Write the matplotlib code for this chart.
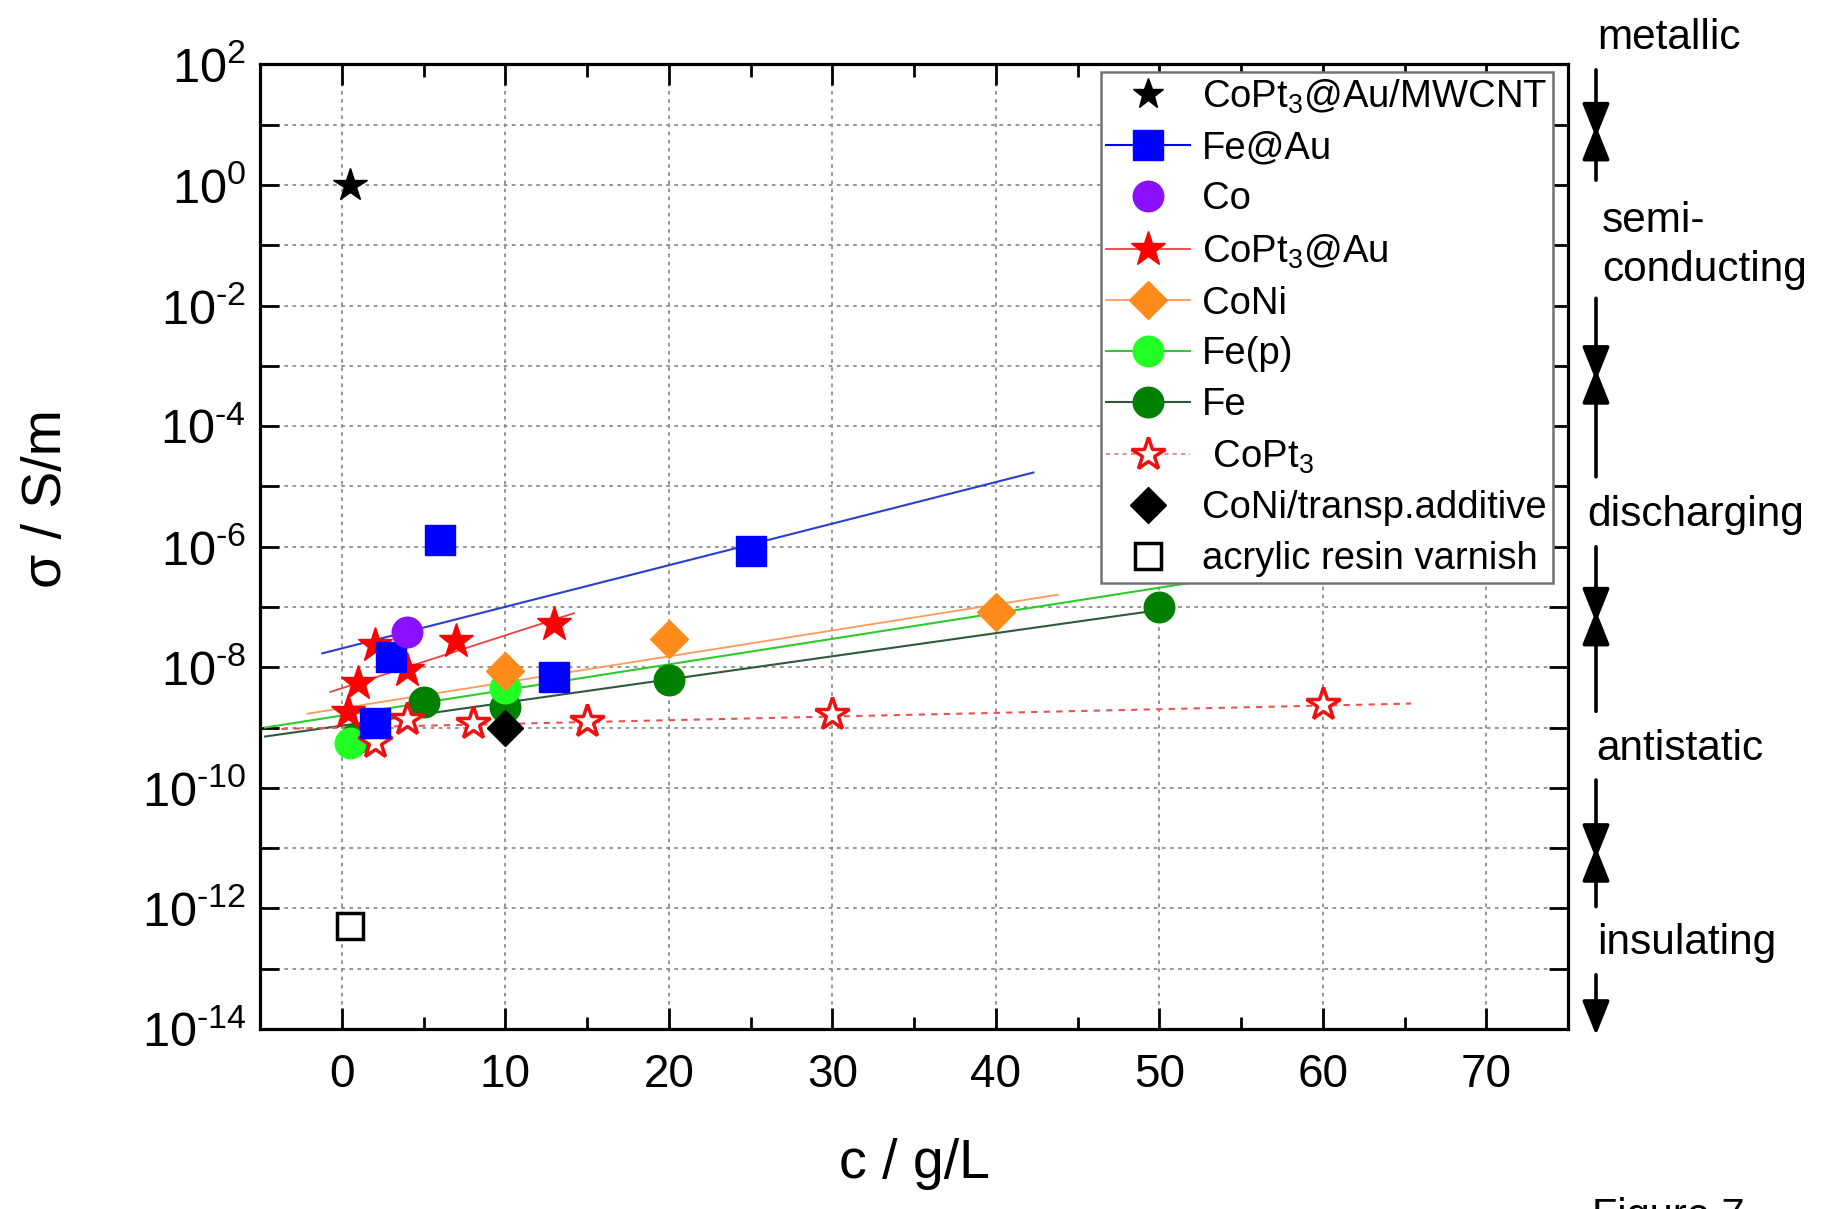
import numpy as np
import matplotlib
matplotlib.use("Agg")
import matplotlib.pyplot as plt
import matplotlib.transforms as mtransforms
from matplotlib.lines import Line2D
from matplotlib.ticker import FixedLocator, FuncFormatter, MultipleLocator

plt.rcParams['font.family'] = ['Liberation Sans', 'DejaVu Sans']
plt.rcParams['mathtext.fontset'] = 'custom'
plt.rcParams['mathtext.rm'] = 'Liberation Sans'
plt.rcParams['mathtext.it'] = 'Liberation Sans:italic'
plt.rcParams['mathtext.bf'] = 'Liberation Sans:bold'
plt.rcParams['mathtext.default'] = 'regular'

# -------------------------------
# Data: concentration c (g/L) and conductivity sigma (S/m)
# -------------------------------
mwcnt_c = [0.5]
mwcnt_s = [1.0]

feau_c = [2, 3, 6, 13, 25]
feau_s = [1.2e-9, 1.5e-8, 1.3e-6, 6.9e-9, 8.5e-7]

co_c = [4]
co_s = [3.9e-8]

coptau_c = [0.4, 1, 2, 4, 7, 13]
coptau_s = [1.8e-9, 5.4e-9, 2.3e-8, 9.1e-9, 2.7e-8, 5.2e-8]

coni_c = [10, 20, 40]
coni_s = [8.7e-9, 3.0e-8, 8.3e-8]

fep_c = [0.5, 10]
fep_s = [5.5e-10, 4.5e-9]

fe_c = [0.8, 5, 10, 20, 50]
fe_s = [6.5e-10, 2.7e-9, 2.2e-9, 6.2e-9, 1.0e-7]

copt_c = [2, 4, 8, 15, 30, 60]
copt_s = [5.7e-10, 1.4e-9, 1.2e-9, 1.3e-9, 1.7e-9, 2.5e-9]

conit_c = [10]
conit_s = [9.8e-10]

resin_c = [0.5]
resin_s = [5.1e-13]

# fitted trend lines (start / end)
feau_fit_c = [-1.2, 42.3]
feau_fit_s = [1.7e-8, 1.7e-5]
coptau_fit_c = [-0.7, 14.2]
coptau_fit_s = [3.9e-9, 7.9e-8]
coni_fit_c = [-2.1, 43.8]
coni_fit_s = [1.7e-9, 1.6e-7]
fep_fit_c = [-4.7, 53]
fep_fit_s = [1.0e-9, 2.8e-7]
fe_fit_c = [-4.7, 50]
fe_fit_s = [7.1e-10, 8.9e-8]
copt_fit_c = [-3.7, 65.4]
copt_fit_s = [9.5e-10, 2.5e-9]

# conductivity classes on the right
class_labels = ['metallic', 'semi-\nconducting', 'discharging', 'antistatic', 'insulating']
class_label_exp = [2.44, -1.0, -5.47, -9.35, -12.57]
class_bounds_exp = [0.885, -3.15, -7.16, -11.08]

# -------------------------------
# Figure
# -------------------------------
fig = plt.figure(figsize=(18.38, 12.09), dpi=100)
ax = fig.add_axes([0.1415, 0.1489, 0.7116, 0.7978])
ax.set_yscale('log')
ax.set_xlim(-5, 75)
ax.set_ylim(1e-14, 1e2)

# fit lines
ax.plot(feau_fit_c, feau_fit_s, color='#2a3fd0', lw=1.5, zorder=2)
ax.plot(coptau_fit_c, coptau_fit_s, color='#ee4040', lw=1.3, zorder=2)
ax.plot(coni_fit_c, coni_fit_s, color='#ff9a5a', lw=1.3, zorder=2)
ax.plot(fep_fit_c, fep_fit_s, color='#2ccc2c', lw=1.5, zorder=2)
ax.plot(fe_fit_c, fe_fit_s, color='#2f5a3a', lw=1.5, zorder=2)
ax.plot(copt_fit_c, copt_fit_s, color='#ee5050', lw=1.5, ls=(0, (3, 3)), zorder=2)

# data points
ax.plot(fe_c, fe_s, 'o', color='#008000', ms=22, ls='none', zorder=3)
ax.plot(fep_c, fep_s, 'o', color='#22ff22', ms=22, ls='none', zorder=3.1)
ax.plot(copt_c, copt_s, '*', mfc='white', mec='#ee1111', mew=2.5, ms=25, ls='none', zorder=3.2)
ax.plot(coni_c, coni_s, 'D', color='#ff8c1a', ms=19, ls='none', zorder=3.3)
ax.plot(coptau_c, coptau_s, '*', color='#ff0000', ms=26, ls='none', zorder=3.4)
ax.plot(feau_c, feau_s, 's', color='#0000ff', ms=21, ls='none', zorder=3.5)
ax.plot(co_c, co_s, 'o', color='#8a10ff', ms=22, ls='none', zorder=3.6)
ax.plot(conit_c, conit_s, 'D', color='black', ms=18, ls='none', zorder=4)
ax.plot(mwcnt_c, mwcnt_s, '*', color='black', ms=25, ls='none', zorder=4)
ax.plot(resin_c, resin_s, 's', mfc='white', mec='black', mew=2.5, ms=19, ls='none', zorder=4)

# axes styling
ax.xaxis.set_major_locator(MultipleLocator(10))
ax.xaxis.set_minor_locator(MultipleLocator(5))
ax.yaxis.set_major_locator(FixedLocator([10.0 ** e for e in range(-14, 3, 2)]))
ax.yaxis.set_minor_locator(FixedLocator([10.0 ** e for e in range(-13, 2, 2)]))
# short hyphen in the exponent, as in the original
ax.yaxis.set_major_formatter(FuncFormatter(
    lambda v, p: r'$10^{%s}$' % str(int(round(np.log10(v)))).replace('-', '\u2010')))
ax.yaxis.set_minor_formatter(FuncFormatter(lambda v, p: ''))

ax.grid(True, axis='y', which='both', color='0.55', ls=(0, (2, 2.5)), lw=1.3)
ax.grid(True, axis='x', which='major', color='0.55', ls=(0, (2, 2.5)), lw=1.3)
ax.set_axisbelow(True)

for s in ax.spines.values():
    s.set_linewidth(2.3)
ax.tick_params(which='both', direction='in', top=True, right=True, width=2)
ax.tick_params(axis='y', which='both', length=14, labelsize=35, pad=10)
ax.tick_params(axis='x', which='major', length=15, labelsize=33, pad=17)
ax.tick_params(axis='x', which='minor', length=9)

ax.set_xlabel('c / g/L', fontsize=40)
ax.set_ylabel('σ / S/m', fontsize=40)
ax.xaxis.set_label_coords(0.5, -0.113)
ax.yaxis.set_label_coords(-0.143, 0.55)

# legend
handles = [
    Line2D([], [], marker='*', color='black', ms=23, ls='none'),
    Line2D([], [], marker='s', color='#0000ff', ms=21, lw=1.5, mec='#0000ff'),
    Line2D([], [], marker='o', color='#8a10ff', ms=22, ls='none'),
    Line2D([], [], marker='*', color='#ee4040', mfc='#ff0000', mec='#ff0000', ms=26, lw=1.3),
    Line2D([], [], marker='D', color='#ff9a5a', mfc='#ff8c1a', mec='#ff8c1a', ms=19, lw=1.3),
    Line2D([], [], marker='o', color='#2ccc2c', mfc='#22ff22', mec='#22ff22', ms=22, lw=1.5),
    Line2D([], [], marker='o', color='#2f5a3a', mfc='#008000', mec='#008000', ms=22, lw=1.5),
    Line2D([], [], marker='*', color='#ee9090', mfc='white', mec='#ee1111', mew=2.5, ms=25,
           lw=1.5, ls=(0, (2, 2))),
    Line2D([], [], marker='D', color='black', ms=18, ls='none'),
    Line2D([], [], marker='s', mfc='white', mec='black', mew=2.5, ms=19, ls='none'),
]
labels = [r'CoPt$_3$@Au/MWCNT', 'Fe@Au', 'Co', r'CoPt$_3$@Au', 'CoNi', 'Fe(p)', 'Fe',
          r' CoPt$_3$', 'CoNi/transp.additive', 'acrylic resin varnish']
leg = ax.legend(handles, labels, loc='upper right', bbox_to_anchor=(0.9885, 0.9925),
                borderaxespad=0, fontsize=27.5, frameon=True, fancybox=False,
                edgecolor='0.45', framealpha=1, handlelength=2.2, handletextpad=0.3,
                borderpad=0.15, labelspacing=0.39)
leg.get_frame().set_linewidth(1.8)

# conductivity classes (right side)
trans = mtransforms.blended_transform_factory(ax.transAxes, ax.transData)
label_x = [1.0222, 1.026, 1.0145, 1.0215, 1.0222]
for lab, e, lx in zip(class_labels, class_label_exp, label_x):
    ax.text(lx, 10.0 ** e, lab, transform=trans, fontsize=30.5, ha='left', va='center',
            linespacing=1.3, clip_on=False)

arrow_x = 1.0214
seg_top = [1.91, -1.88, -6.0, -9.87]
seg_bot = [0.08, -4.84, -8.73, -11.97]
aprops = dict(arrowstyle='-|>,head_length=0.7,head_width=0.28', color='black', lw=2.6,
              shrinkA=0, shrinkB=0, mutation_scale=30)
overlap = 0.1
for top, meet, bot in zip(seg_top, class_bounds_exp, seg_bot):
    ax.annotate('', xy=(arrow_x, 10.0 ** (meet - overlap)), xytext=(arrow_x, 10.0 ** top),
                xycoords=trans, textcoords=trans, arrowprops=aprops, annotation_clip=False)
    ax.annotate('', xy=(arrow_x, 10.0 ** (meet + overlap)), xytext=(arrow_x, 10.0 ** bot),
                xycoords=trans, textcoords=trans, arrowprops=aprops, annotation_clip=False)
ax.annotate('', xy=(arrow_x, 10.0 ** -14.1), xytext=(arrow_x, 10.0 ** -13.1),
            xycoords=trans, textcoords=trans, arrowprops=aprops, annotation_clip=False)

fig.text(1592 / 1838, 1 - 1197 / 1209, 'Figure 7', fontsize=30, ha='left', va='top')

fig.savefig('out.png', dpi=100)
